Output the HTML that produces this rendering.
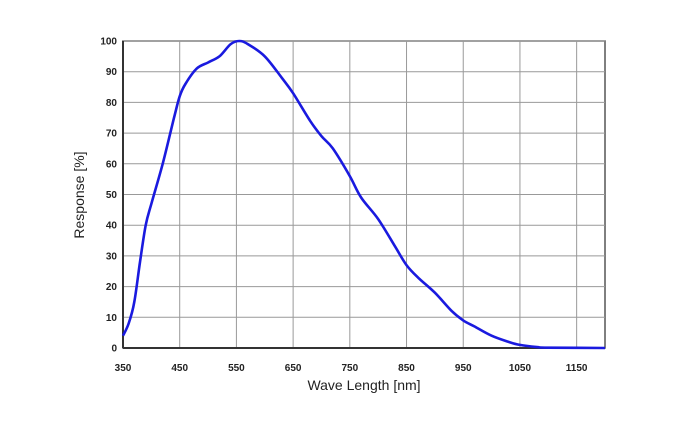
<!DOCTYPE html>
<html><head><meta charset="utf-8"><style>
body{margin:0;background:#fff;}
svg text{font-family:"Liberation Sans",sans-serif;fill:#222;}
</style></head><body>
<svg width="690" height="428" id="chart"></svg>
<script>
const xTicks=[350,450,550,650,750,850,950,1050,1150];
const yTicks=[0,10,20,30,40,50,60,70,80,90,100];
const wavelengths=[350,360,370,380,390,400,420,440,450,460,480,500,520,540,555,570,600,630,650,680,700,720,750,770,800,830,850,870,900,930,950,970,1000,1030,1050,1080,1100,1200];
const responses=[4,8,15,28,40,47,60,75,82,86,91,93,95,99,100,99,95,88,83,74,69,65,56,49,42,33,27,23,18,12,9,7,4,2,1,0.3,0.1,0];
const L=123,R=605,T=41,B=348;
const X=v=>L+(v-350)/(1200-350)*(R-L);
const Y=v=>B-v/100*(B-T);
const svg=document.getElementById('chart');
const NS='http://www.w3.org/2000/svg';
function mk(t,a){const e=document.createElementNS(NS,t);for(const k in a)e.setAttribute(k,a[k]);svg.appendChild(e);return e;}
const frame=mk('rect',{x:L,y:T,width:R-L,height:B-T,fill:'#fff',stroke:'#555','stroke-width':1.5});


yTicks.forEach(v=>{
 const g=mk('line',{x1:L,x2:R,y1:Y(v),y2:Y(v),stroke:'#999','stroke-width':1});
 
 
 const t=mk('text',{x:L-6,y:Y(v)+3.5,'text-anchor':'end','font-size':10,'font-weight':'bold'});
 t.textContent=v;
 
 
});
xTicks.forEach(v=>{
 const g=mk('line',{x1:X(v),x2:X(v),y1:T,y2:B,stroke:'#999','stroke-width':1});
 
 
 const t=mk('text',{x:X(v),y:B+23,'text-anchor':'middle','font-size':10,'font-weight':'bold'});
 t.textContent=v;
 
 
});
const ax=mk('line',{x1:L,x2:R,y1:B,y2:B,stroke:'#333','stroke-width':2});


const ay=mk('line',{x1:L,x2:L,y1:T,y2:B,stroke:'#333','stroke-width':2});


const pts=wavelengths.map((w,i)=>[X(w),Y(responses[i])]);
let d='M'+pts[0][0].toFixed(1)+' '+pts[0][1].toFixed(1);
for(let i=0;i<pts.length-1;i++){
 const p0=pts[Math.max(0,i-1)],p1=pts[i],p2=pts[i+1],p3=pts[Math.min(pts.length-1,i+2)];
 const c1=[p1[0]+(p2[0]-p0[0])/6,p1[1]+(p2[1]-p0[1])/6];
 const c2=[p2[0]-(p3[0]-p1[0])/6,p2[1]-(p3[1]-p1[1])/6];
 d+=' C'+c1.map(n=>n.toFixed(1)).join(' ')+' '+c2.map(n=>n.toFixed(1)).join(' ')+' '+p2.map(n=>n.toFixed(1)).join(' ');
}
const p=mk('path',{d:d,fill:'none',stroke:'#1a1adf','stroke-width':2.6,'stroke-linejoin':'round'});


const xt=mk('text',{x:364,y:390,'text-anchor':'middle','font-size':14});
xt.textContent='Wave Length [nm]';


const yt=mk('text',{x:84,y:195,'text-anchor':'middle','font-size':14,transform:'rotate(-90 84 195)'});
yt.textContent='Response [%]';


</script>
</body></html>
